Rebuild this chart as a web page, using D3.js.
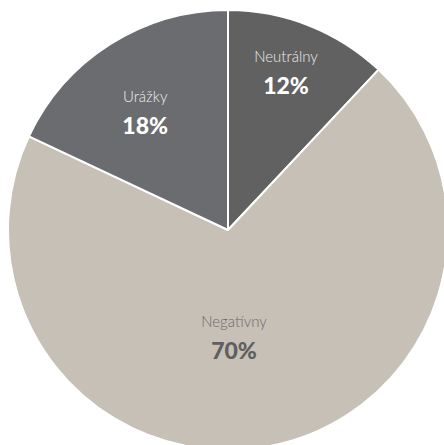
<!DOCTYPE html>
<html>
<head>
<meta charset="utf-8">
<script src="https://cdn.jsdelivr.net/npm/d3@7"></script>
<style>
  html, body { margin: 0; padding: 0; background: #fff; }
  svg { display: block; }
</style>
</head>
<body>
<svg id="chart"></svg>
<script>
// slice data, in drawing order (clockwise from 12 o'clock)
const categories = ["Neutrálny", "Negatívny", "Urážky"];
const values = [12, 70, 18];
const colors = ["#606160", "#c6c0b7", "#6b6c70"];

const width = 444, height = 445;
const cx = 228, cy = 230, radius = 220;

// label placement: radius and a small angular nudge (degrees) per slice
const labelPlace = {
    "Neutrálny": { r: 168, shift: -1.4 },
    "Negatívny": { r: 107, shift: 7.6 },
    "Urážky": { r: 144, shift: -2.7 }
};

const data = categories.map((c, i) => ({ name: c, value: values[i] }));

const svg = d3.select("#chart")
    .attr("width", width)
    .attr("height", height);

const g = svg.append("g").attr("transform", `translate(${cx}, ${cy})`);

const colorScale = d3.scaleOrdinal().domain(categories).range(colors);

const pie = d3.pie().sort(null).value(d => d.value);
const arc = d3.arc().innerRadius(0).outerRadius(radius);
const arcs = pie(data);

g.selectAll("path")
    .data(arcs)
    .join("path")
    .attr("d", arc)
    .attr("fill", d => colorScale(d.data.name))
    .attr("stroke", "#fff")
    .attr("stroke-width", 2)
    .attr("stroke-linejoin", "round");

const labels = g.selectAll("g.label")
    .data(arcs)
    .join("g")
    .attr("class", "label")
    .attr("transform", d => {
        const p = labelPlace[d.data.name];
        const a = (d.startAngle + d.endAngle) / 2 + p.shift * Math.PI / 180;
        return `translate(${p.r * Math.sin(a)}, ${-p.r * Math.cos(a)})`;
    });

labels.append("text")
    .attr("text-anchor", "middle")
    .attr("y", -10)
    .attr("fill", d => d.data.name === "Negatívny" ? "#6a6a6a" : "#ececec")
    .style("font-family", "Lato, 'Open Sans', sans-serif")
    .style("font-weight", "300")
    .style("font-size", "15px")
    .text(d => d.data.name);

labels.append("text")
    .attr("text-anchor", "middle")
    .attr("y", 22)
    .attr("fill", d => d.data.name === "Negatívny" ? "#5f5f5f" : "#ffffff")
    .style("font-family", "Lato, 'Open Sans', sans-serif")
    .style("font-weight", "900")
    .style("font-size", "23px")
    .text(d => d.data.value + "%");
</script>
</body>
</html>
